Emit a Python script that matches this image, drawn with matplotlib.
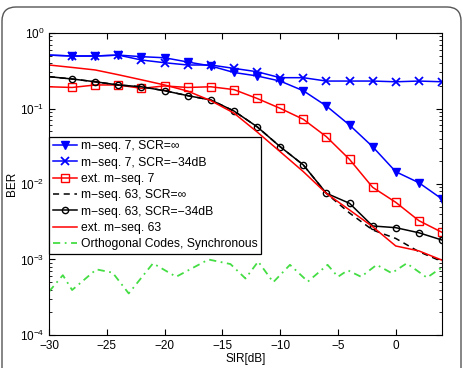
import numpy as np
import matplotlib
matplotlib.use("Agg")
import matplotlib.pyplot as plt
from matplotlib.patches import FancyBboxPatch

plt.rcParams['font.family'] = ['Liberation Sans', 'DejaVu Sans']
plt.rcParams['mathtext.default'] = 'regular'

# SIR axis (dB)
sir = np.arange(-30, 5, 2)

# BER curves
ber_m7_inf = [0.51, 0.496, 0.496, 0.51, 0.486, 0.47, 0.413, 0.366, 0.30, 0.27,
              0.231, 0.172, 0.108, 0.0604, 0.0312, 0.01455, 0.0104, 0.00633]
ber_m7_34 = [0.51, 0.496, 0.496, 0.51, 0.439, 0.404, 0.377, 0.377, 0.34, 0.307,
             0.256, 0.256, 0.231, 0.231, 0.231, 0.226, 0.231, 0.226]
ber_ext7 = [0.194, 0.19, 0.205, 0.205, 0.185, 0.199, 0.19, 0.194, 0.178, 0.136,
            0.1005, 0.072, 0.0423, 0.0212, 0.00904, 0.00572, 0.00327, 0.00229]
ber_m63_inf = [0.264, 0.246, 0.226, 0.205, 0.194, 0.172, 0.148, 0.1297, 0.0927, 0.0574,
               0.0312, 0.0179, 0.0075, 0.00413, 0.00246, 0.0019, 0.00127, 0.00094]
ber_m63_34 = [0.264, 0.246, 0.226, 0.205, 0.194, 0.172, 0.148, 0.1297, 0.0927, 0.0574,
              0.0312, 0.0179, 0.00754, 0.00555, 0.00278, 0.00264, 0.00226, 0.00181]
ber_ext63 = [0.377, 0.35, 0.324, 0.28, 0.24, 0.205, 0.17, 0.127, 0.087, 0.049,
             0.0268, 0.0146, 0.0075, 0.00453, 0.00272, 0.00151, 0.0013, 0.00098]

# orthogonal codes (wavy floor)
sir_orth = [-30, -28.8, -28.0, -25.9, -24.5, -23.1, -21.0, -19.0, -16.2, -14.3, -13.0,
            -11.9, -10.6, -9.15, -7.6, -5.9, -5.0, -4.15, -3.0, -1.65, -0.35, 0.95,
            2.7, 3.8, 4]
ber_orth = [3.75e-4, 6.2e-4, 3.94e-4, 7.4e-4, 6.7e-4, 3.55e-4, 8.9e-4, 5.9e-4, 1.0e-3,
            8.7e-4, 5.6e-4, 9.4e-4, 5.0e-4, 8.5e-4, 5.1e-4, 8.5e-4, 5.9e-4, 7.2e-4,
            5.9e-4, 8.5e-4, 6.6e-4, 8.9e-4, 5.75e-4, 7.5e-4, 7.6e-4]

fig = plt.figure(figsize=(4.63, 3.68), dpi=100)
# rounded panel frame
frame = FancyBboxPatch((2, -30), 459, 391, boxstyle="round,pad=0,rounding_size=14",
                       transform=None, fc='none', ec='#555555', lw=1.0)
fig.patches.append(frame)

ax = fig.add_axes([0.1058, 0.0897, 0.8488, 0.8206])

mk = slice(1, None)
lw = 1.1
ax.plot(sir, ber_m7_inf, color='b', lw=lw, marker='v', ms=5.5, mfc='b', mec='b',
        markevery=mk, label='m\u2212seq. 7, SCR=\u221e')
ax.plot(sir, ber_m7_34, color='b', lw=lw, marker='x', ms=6, mew=1.3,
        markevery=mk, label='m\u2212seq. 7, SCR=\u221234dB')
ax.plot(sir, ber_ext7, color='r', lw=lw, marker='s', ms=5.5, mfc='none', mec='r',
        markevery=mk, label='ext. m\u2212seq. 7')
ax.plot(sir, ber_m63_inf, color='k', lw=lw, ls=(0, (4, 3)),
        label='m\u2212seq. 63, SCR=\u221e')
ax.plot(sir, ber_m63_34, color='k', lw=lw, marker='o', ms=4.5, mfc='none', mec='k',
        markevery=mk, label='m\u2212seq. 63, SCR=\u221234dB')
ax.plot(sir, ber_ext63, color='r', lw=lw, label='ext. m\u2212seq. 63')
ax.plot(sir_orth, ber_orth, color='#44dd44', lw=1.3, ls=(0, (4, 2.5, 1, 2.5)),
        label='Orthogonal Codes, Synchronous')

ax.set_yscale('log')
ax.set_xlim(-30, 4)
ax.set_ylim(1e-4, 1)
ax.set_xticks(np.arange(-30, 1, 5))
ax.tick_params(which='both', direction='in', top=True, right=True, labelsize=8.5)
ax.tick_params(which='major', length=4)
ax.tick_params(which='minor', length=2)
ax.set_xlabel('SIR[dB]', fontsize=8.5, labelpad=1)
ax.set_ylabel('BER', fontsize=8.5, labelpad=1)

leg = ax.legend(loc='upper left', bbox_to_anchor=(0, 0.657), borderaxespad=0,
                prop={'size': 8.7}, fancybox=False, framealpha=1, edgecolor='k',
                handlelength=2.0, handletextpad=0.35, labelspacing=0.36,
                borderpad=0.3)
leg.get_frame().set_linewidth(0.9)

fig.savefig('out.png', dpi=100)
